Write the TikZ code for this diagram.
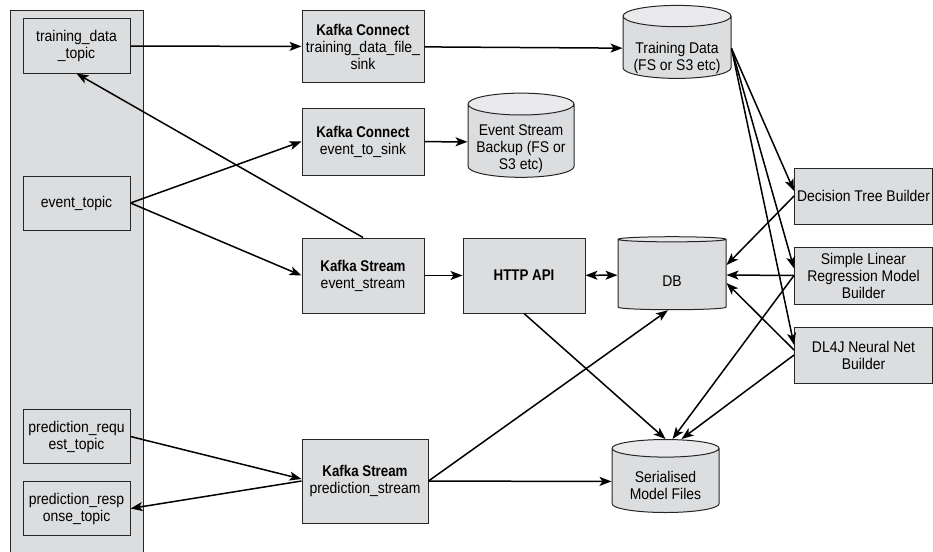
\documentclass[tikz,border=0pt]{standalone}
\usepackage{fontspec}
\setmainfont{Liberation Sans}[FakeStretch=0.9,BoldFeatures={FakeStretch=0.86}]
\usetikzlibrary{arrows.meta,shapes.geometric}
\definecolor{boxgray}{RGB}{220,221,223}
\definecolor{capgray}{RGB}{234,234,236}
% text of a store sits below the middle of the drum
\newcommand\lowered[2]{\raisebox{-#1}[\height][\depth]{\begin{tabular}{@{}c@{}}#2\end{tabular}}}
\begin{document}
\begin{tikzpicture}[x=1pt,y=-1pt,
  every node/.style={font=\fontsize{15.5}{17}\selectfont,align=center,inner sep=1pt},
  >={Stealth[length=12pt,width=9pt,inset=3pt]},
  box/.style={draw=black!85,line width=1pt,fill=boxgray,rectangle},
  store/.style={draw=black!85,line width=1pt,cylinder,shape border rotate=90,aspect=0.24,
    cylinder uses custom fill,cylinder body fill=boxgray,cylinder end fill=capgray,
    minimum width=108pt,minimum height=73pt},
  flow/.style={line width=1.5pt,->}]
\useasboundingbox (0,0) rectangle (933,551);
% topics
\node[box,minimum width=133pt,minimum height=546pt] (z) at (76.5,284) {};
\node[box,minimum width=107pt,minimum height=54pt] (a) at (76.5,46) {training\_data\\\_topic};
\node[box,minimum width=107pt,minimum height=54pt] (b) at (76.5,203) {event\_topic};
\node[box,minimum width=107pt,minimum height=54pt] (c) at (76.5,436.5) {prediction\_requ\\est\_topic};
\node[box,minimum width=107pt,minimum height=54pt] (d) at (76.5,508.5) {prediction\_resp\\onse\_topic};
% connectors and streams
\node[box,minimum width=122pt,minimum height=71pt] (e) at (363,46.5) {\textbf{Kafka Connect}\\training\_data\_file\_\\sink};
\node[box,minimum width=122pt,minimum height=67pt] (f) at (363,141.5) {\textbf{Kafka Connect}\\event\_to\_sink};
\node[box,minimum width=122pt,minimum height=75pt] (g) at (363,275.5) {\textbf{Kafka Stream}\\event\_stream};
\node[box,minimum width=122pt,minimum height=75pt] (h) at (524,275.5) {\textbf{HTTP API}};
\node[box,minimum width=126pt,minimum height=84pt] (i) at (365,481) {\textbf{Kafka Stream}\\prediction\_stream};
% stores
\node[store] (j) at (677,48.5) {\lowered{10pt}{Training Data\\(FS or S3 etc)}};
\node[store,minimum width=106pt,minimum height=72pt] (k) at (521,142) {\lowered{7pt}{Event Stream\\Backup (FS or\\S3 etc)}};
\node[store] (l) at (672,275) {\lowered{8pt}{DB}};
\node[store,minimum width=107pt] (m) at (665.5,481.5) {\lowered{6pt}{Serialised\\Model Files}};
% builders
\node[box,minimum width=138pt,minimum height=56pt] (n) at (863.5,196) {Decision Tree Builder};
\node[box,minimum width=138pt,minimum height=57pt] (o) at (863.5,275.5) {Simple Linear\\Regression Model\\Builder};
\node[box,minimum width=138pt,minimum height=56pt] (p) at (863.5,355) {DL4J Neural Net\\Builder};
\draw[flow] (a) -- (e);
\draw[flow] (e) -- (j);
\draw[flow] (b.east) -- (f.west);
\draw[flow] (b.east) -- (g.west);
\draw[flow] (g.north) -- (a.south);
\draw[flow] (f) -- (k);
\draw[flow] (g) -- (h);
\draw[flow,<->] (h) -- (l);
\draw[flow] (h.south) -- (m.north);
\draw[flow] (i.east) -- ([xshift=-4pt]l.south);
\draw[flow] (i) -- (m);
\draw[flow] (c.east) -- ([yshift=2pt]i.west);
\draw[flow] (i.west) -- (d.east);
\draw[flow] (j.east) -- ([yshift=5pt]n.west);
\draw[flow] (j.east) -- ([yshift=7pt]o.west);
\draw[flow] (j.east) -- ([yshift=10pt]p.west);
\draw[flow] (n.west) -- ([yshift=10pt]l.east);
\draw[flow] (o.west) -- (l.east);
\draw[flow] ([yshift=5pt]p.west) -- ([yshift=-8pt]l.east);
\draw[flow] (o.west) -- ([xshift=7pt]m.north);
\draw[flow] (p.west) -- ([xshift=16pt]m.north);
\end{tikzpicture}
\end{document}
